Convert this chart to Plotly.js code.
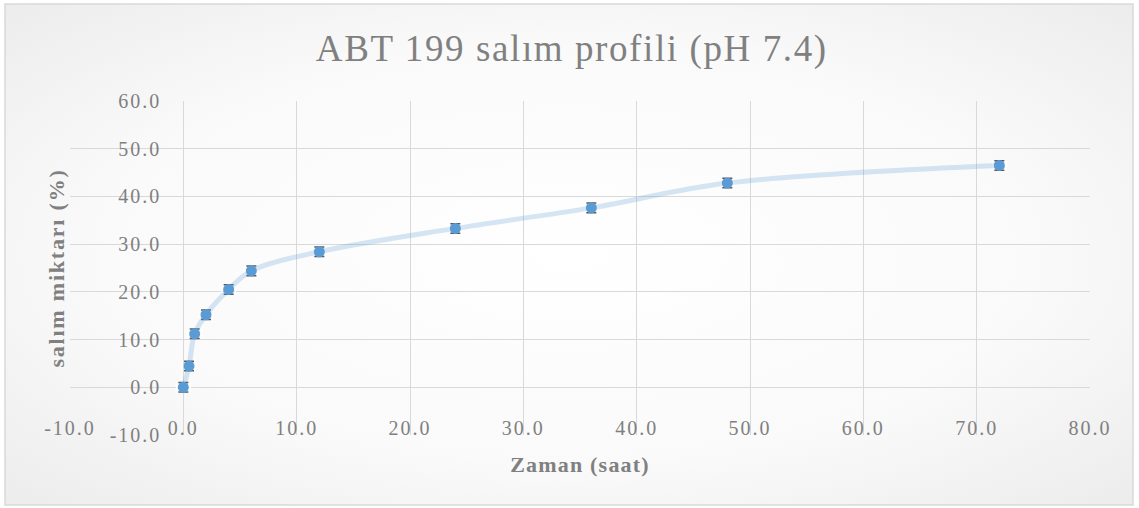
<!DOCTYPE html>
<html>
<head>
<meta charset="utf-8">
<script src="https://cdn.plot.ly/plotly-3.0.1.min.js"></script>
<style>html,body{margin:0;padding:0;background:#fff;}#chart{width:1139px;height:508px;}</style>
</head>
<body>
<div id="chart"></div>
<script>
// Data
const timeHours = [0, 0.5, 1, 2, 4, 6, 12, 24, 36, 48, 72];
const releasePct = [0.0, 4.45, 11.2, 15.2, 20.5, 24.4, 28.4, 33.3, 37.6, 42.8, 46.5];
const releaseErr = [1.0, 1.0, 1.0, 1.0, 1.0, 1.0, 1.0, 1.0, 1.0, 1.0, 1.0];
const timeErr = [0.6, 0.6, 0.6, 0.6, 0.6, 0.6, 0.6, 0.6, 0.6, 0.6, 0.6];
const xTicks = [-10, 0, 10, 20, 30, 40, 50, 60, 70, 80];
const yTicks = [-10, 0, 10, 20, 30, 40, 50, 60];

const chartTitle = 'ABT 199 salım profili (pH 7.4)';
const xTitle = 'Zaman (saat)';
const yTitle = 'salım miktarı (%)';

const serif = '"Liberation Serif", "Times New Roman", serif';
function spaced(txt, px){ return '<span style="letter-spacing:' + px + 'px">' + txt + '</span>'; }

const bgSvg = '<svg xmlns="http://www.w3.org/2000/svg" width="1128" height="501" preserveAspectRatio="none">' +
  '<defs><radialGradient id="g" cx="50%" cy="50%" r="75%">' +
  '<stop offset="0" stop-color="#ffffff"/><stop offset="0.55" stop-color="#fafafa"/><stop offset="1" stop-color="#eaeaea"/>' +
  '</radialGradient></defs><rect width="1128" height="501" fill="url(#g)"/></svg>';
const bgUri = 'data:image/svg+xml;base64,' + btoa(bgSvg);

const W = 1020, H = 334; // plot area size in px
const L = 70, T = 101;
function px2paperX(p){ return (p - L) / W; }
function px2paperY(p){ return (T + H - p) / H; }

const trace = {
  type: 'scatter',
  mode: 'lines+markers',
  x: timeHours,
  y: releasePct,
  line: {shape: 'spline', color: 'rgba(91,155,213,0.25)', width: 5},
  marker: {color: '#5b9bd5', size: 11, symbol: 'circle'},
  error_y: {type: 'data', array: releaseErr, visible: true, color: '#595959', thickness: 1.5, width: 5},
  error_x: {type: 'data', array: timeErr, visible: true, color: '#ffffff', thickness: 1.5, width: 4},
  hoverinfo: 'x+y',
  showlegend: false
};

const layout = {
  width: 1139, height: 508,
  margin: {l: L, r: 1139 - L - W, t: T, b: 508 - T - H, pad: 0},
  paper_bgcolor: '#ffffff',
  plot_bgcolor: 'rgba(0,0,0,0)',
  title: {text: spaced(chartTitle, 1.6), font: {family: serif, size: 37, color: '#808080'}, x: 0.502, xanchor: 'center', y: 0.905, yanchor: 'middle'},
  images: [{source: bgUri, xref: 'paper', yref: 'paper', x: px2paperX(5), y: px2paperY(4),
    sizex: (1133 - 5) / W, sizey: (505 - 4) / H, xanchor: 'left', yanchor: 'top', sizing: 'stretch', layer: 'below'}],
  shapes: [{type: 'rect', xref: 'paper', yref: 'paper', x0: px2paperX(5), x1: px2paperX(1133), y0: px2paperY(505), y1: px2paperY(4),
    line: {color: '#d9d9d9', width: 1.5}, fillcolor: 'rgba(0,0,0,0)', layer: 'below'}],
  xaxis: {
    range: [-10, 80], tickvals: xTicks, ticktext: xTicks.map(v => spaced(v.toFixed(1), 2)),
    showgrid: true, gridcolor: '#d9d9d9', gridwidth: 1, zeroline: false, showline: false, ticks: '',
    ticklabelposition: 'inside', ticklabeloverflow: 'allow', ticklabelstandoff: -7,
    tickfont: {family: serif, size: 20, color: '#808080'},
    title: {text: '<b>' + spaced(xTitle, 1.2) + '</b>', font: {family: serif, size: 22, color: '#808080'}, standoff: 18},
    fixedrange: true
  },
  yaxis: {
    range: [-10, 60], tickvals: yTicks, ticktext: yTicks.map(v => spaced(v.toFixed(1), 2)),
    anchor: 'free', position: 10 / 90,
    showgrid: true, gridcolor: '#d9d9d9', gridwidth: 1, zeroline: false, showline: false, ticks: '',
    ticklabelstandoff: 22,
    tickfont: {family: serif, size: 20, color: '#808080'},
    title: {text: '<b>' + spaced(yTitle, 1.8) + '</b>', font: {family: serif, size: 22, color: '#808080'}, standoff: 37},
    fixedrange: true
  }
};

Plotly.newPlot('chart', [trace], layout, {displayModeBar: false, staticPlot: true});
</script>
</body>
</html>
